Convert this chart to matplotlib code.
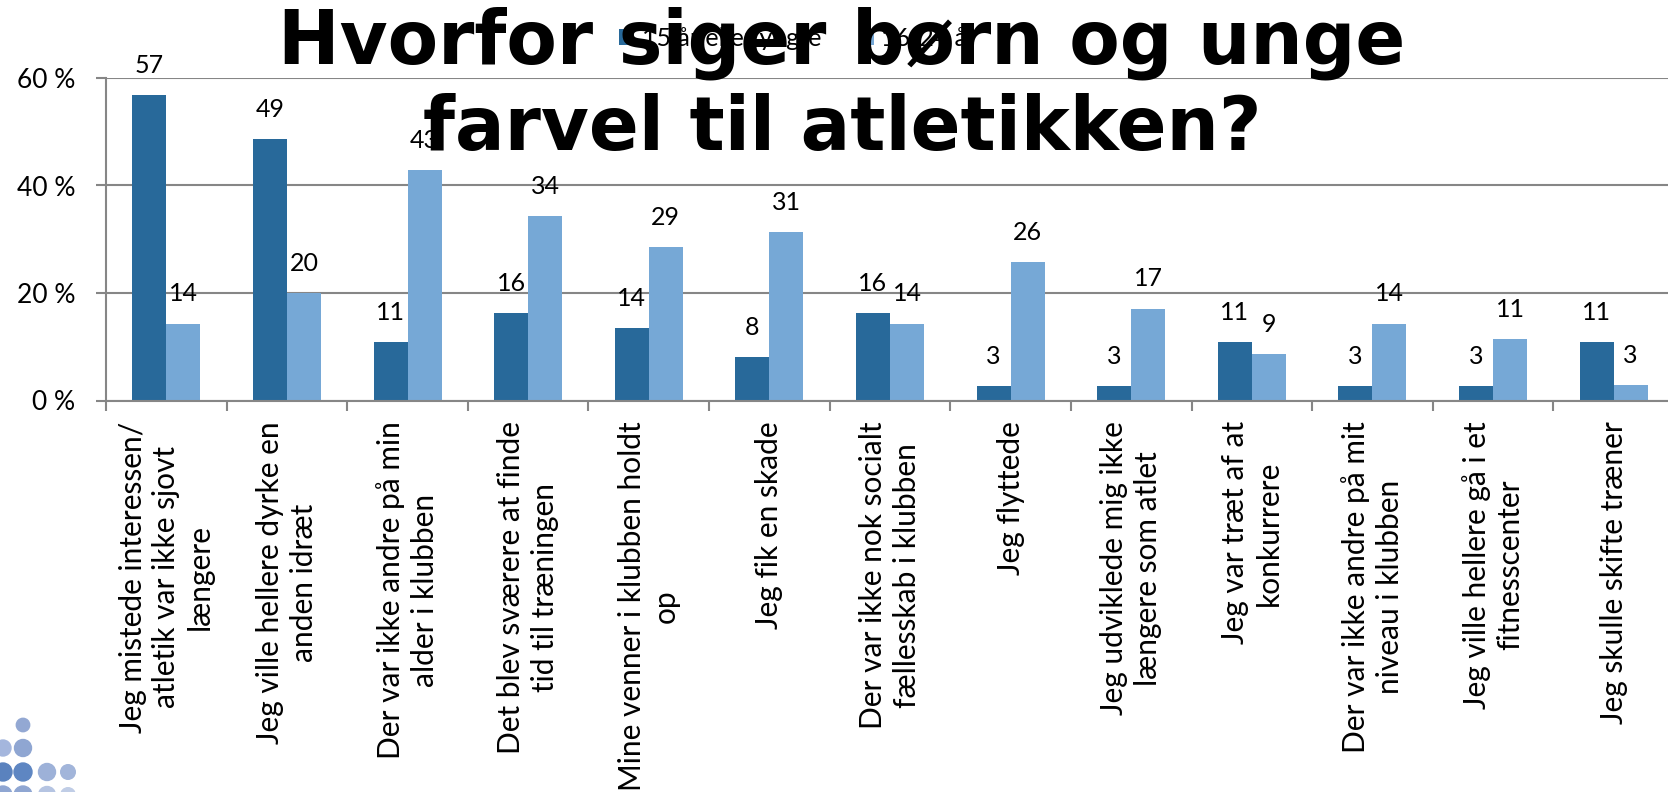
import numpy as np
import matplotlib
matplotlib.use('Agg')
import matplotlib.pyplot as plt
from matplotlib.patches import Circle

# Data (percent of respondents)
categories = [
    'Jeg mistede interessen/\natletik var ikke sjovt\nlængere',
    'Jeg ville hellere dyrke en\nanden idræt',
    'Der var ikke andre på min\nalder i klubben',
    'Det blev sværere at finde\ntid til træningen',
    'Mine venner i klubben holdt\nop',
    'Jeg fik en skade',
    'Der var ikke nok socialt\nfællesskab i klubben',
    'Jeg flyttede',
    'Jeg udviklede mig ikke\nlængere som atlet',
    'Jeg var træt af at\nkonkurrere',
    'Der var ikke andre på mit\nniveau i klubben',
    'Jeg ville hellere gå i et\nfitnesscenter',
    'Jeg skulle skifte træner',
]
young = [56.8, 48.6, 10.8, 16.2, 13.5, 8.1, 16.2, 2.7, 2.7, 10.8, 2.7, 2.7, 10.8]
older = [14.3, 20.0, 42.9, 34.3, 28.6, 31.4, 14.3, 25.7, 17.1, 8.6, 14.3, 11.4, 2.9]
series_names = ['15 år eller yngre', '16-24 år']
yticks = [0, 20, 40, 60]
title = 'Hvorfor siger børn og unge\nfarvel til atletikken?'

dark = '#28699A'
light = '#76A8D6'
grid = '#868686'

plt.rcParams['font.family'] = ['Lato', 'DejaVu Sans']

fig = plt.figure(figsize=(16.68, 7.92), dpi=100)
ax = fig.add_axes([106 / 1668, 391.5 / 792, 1568 / 1668, 322.5 / 792])

x = np.arange(len(categories))
w = 0.282
b1 = ax.bar(x - w / 2, young, w, color=dark, label=series_names[0], zorder=2)
b2 = ax.bar(x + w / 2, older, w, color=light, label=series_names[1], zorder=2)

for bars, vals in [(b1, young), (b2, older)]:
    for r, v in zip(bars, vals):
        ax.annotate('{:.0f}'.format(v), (r.get_x() + r.get_width() / 2, v),
                    xytext=(0, 16), textcoords='offset points',
                    ha='center', va='baseline', fontsize=18, color='black')

ax.set_xlim(-0.5, len(categories) - 0.5)
ax.set_ylim(0, 60)
ax.set_yticks(yticks)
ax.set_yticklabels(['{} %'.format(t) for t in yticks], fontsize=19)
ax.yaxis.grid(True, color=grid, linewidth=1.5, zorder=0)
ax.set_axisbelow(True)

# category labels centred, ticks between categories
ax.set_xticks(x)
ax.set_xticklabels(categories, rotation=90, fontsize=21.5, ha='center', va='top',
                   multialignment='center', linespacing=1.25)
ax.set_xticks(np.arange(len(categories) + 1) - 0.5, minor=True)
ax.tick_params(axis='x', which='major', length=0, pad=15)
ax.tick_params(axis='x', which='minor', length=7, width=1.5, color=grid)
ax.tick_params(axis='y', length=7, width=1.5, color=grid, pad=15)

for s in ['top', 'right']:
    ax.spines[s].set_visible(False)
for s in ['left', 'bottom']:
    ax.spines[s].set_color(grid)
    ax.spines[s].set_linewidth(1.5)

ax.legend(loc='center', bbox_to_anchor=(798 / 1668, 1 - 38 / 792),
          bbox_transform=fig.transFigure, ncol=2, frameon=False, fontsize=18,
          handlelength=0.6, handleheight=0.6, handletextpad=0.3, columnspacing=1.5)

# slide title on top of the chart
fig.text(842 / 1668, 1 - 86 / 792, title, ha='center', va='center',
         multialignment='center', fontsize=53, fontweight='bold',
         family='DejaVu Sans', linespacing=1.22, color='black')

# logo dots bottom left
dots = [(23, 725, 6.7, '#93A8D3'), (3, 748, 8, '#A4B6DD'), (23, 748, 8.5, '#8FA6D2'),
        (3, 772, 9, '#5A82BE'), (23, 772, 9, '#5E86C2'), (47, 772, 8.5, '#9DB1D8'),
        (68, 772, 7.3, '#A2B5DA'), (3, 795, 9, '#8FA6D2'), (23, 795, 9, '#8FA6D2'),
        (47, 795, 8.5, '#B5C4E2'), (68, 795, 7.3, '#C0CDE6')]
for cx, cy, r, c in dots:
    fig.patches.append(Circle((cx / 100, (792 - cy) / 100), r / 100, color=c,
                              transform=fig.dpi_scale_trans))

fig.savefig('out.png', dpi=100)
